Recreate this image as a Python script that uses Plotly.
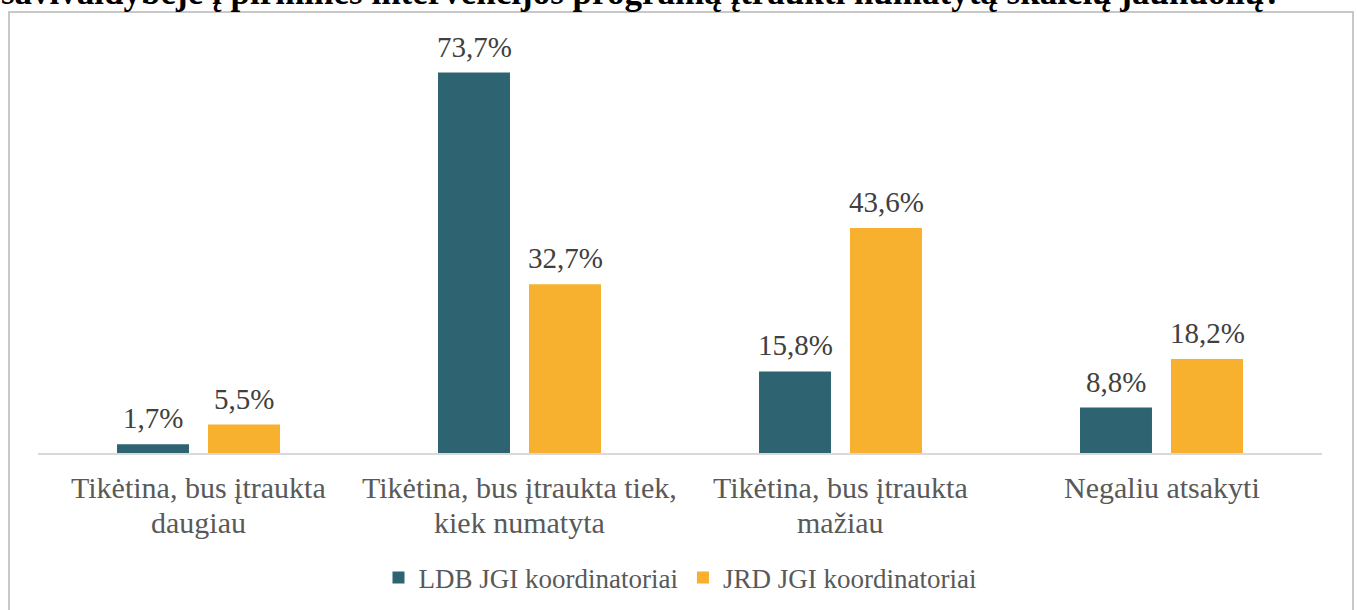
import plotly.graph_objects as go

categories = ["Tikėtina, bus įtraukta daugiau", "Tikėtina, bus įtraukta tiek, kiek numatyta",
              "Tikėtina, bus įtraukta mažiau", "Negaliu atsakyti"]
category_lines = [["Tikėtina, bus įtraukta", "daugiau"], ["Tikėtina, bus įtraukta tiek,", "kiek numatyta"],
                  ["Tikėtina, bus įtraukta", "mažiau"], ["Negaliu atsakyti"]]
series_names = ["LDB JGI koordinatoriai", "JRD JGI koordinatoriai"]
ldb_values = [1.7, 73.7, 15.8, 8.8]
jrd_values = [5.5, 32.7, 43.6, 18.2]
title_text = "savivaldybėje į pirmines intervencijos programą įtraukti numatytą skaičių jaunuolių?"

colors = ["#2E6472", "#F8B02F"]
FONT = "Liberation Serif"

W, H = 1357, 610
ml, mr, mt, mb = 38, 35, 40, 157
pw = W - ml - mr
ph = H - mt - mb

def px_x(p):
    return (p - ml) / pw

def px_y(p):
    return (H - mb - p) / ph

fig = go.Figure()
for name, vals, col in zip(series_names, [ldb_values, jrd_values], colors):
    fig.add_trace(go.Bar(x=categories, y=vals, name=name, marker=dict(color=col, line=dict(width=0))))

annotations = []
for i, vals in enumerate([ldb_values, jrd_values]):
    shift = -45.5 if i == 0 else 45.5
    for c, v in zip(categories, vals):
        annotations.append(dict(x=c, y=v, xref="x", yref="y", text=f"{v:.1f}%".replace(".", ","),
                                showarrow=False, xshift=shift, yanchor="bottom", yshift=8,
                                font=dict(family=FONT, size=29, color="#404040")))

# category labels (two lines each, 35 px apart)
for c, lines in zip(categories, category_lines):
    for j, line in enumerate(lines):
        annotations.append(dict(x=c, xref="x", y=px_y(469 + 35 * j), yref="paper", yanchor="top",
                                text=line, showarrow=False,
                                font=dict(family=FONT, size=30, color="#595959")))

annotations.append(dict(x=px_x(-1), y=px_y(14), xref="paper", yref="paper", xanchor="left", yanchor="bottom",
                        text="<b>" + title_text + "</b>", showarrow=False,
                        font=dict(family=FONT, size=35, color="#000000")))

fig.update_layout(
    width=W, height=H,
    margin=dict(l=ml, r=mr, t=mt, b=mb, autoexpand=False),
    paper_bgcolor="white", plot_bgcolor="white",
    barmode="group", bargap=0.433, bargroupgap=0.209,
    font=dict(family=FONT, size=27, color="#595959"),
    xaxis=dict(showline=True, linecolor="#D9D9D9", linewidth=2, showticklabels=False,
               ticks="", showgrid=False),
    yaxis=dict(range=[0, 80], visible=False, showgrid=False),
    legend=dict(orientation="h", x=0.5, xanchor="center", y=px_y(578), yanchor="middle",
                font=dict(family=FONT, size=27, color="#595959"), itemwidth=30, traceorder="normal"),
    showlegend=True,
    annotations=annotations,
    shapes=[dict(type="rect", xref="paper", yref="paper", x0=px_x(9), x1=px_x(1353),
                 y0=px_y(640), y1=px_y(12), line=dict(color="#C8C8C8", width=2), layer="below")],
)

fig.write_html("out.html", config={"displayModeBar": False},
               post_script="document.body.style.margin='0';document.body.style.overflow='hidden';")
